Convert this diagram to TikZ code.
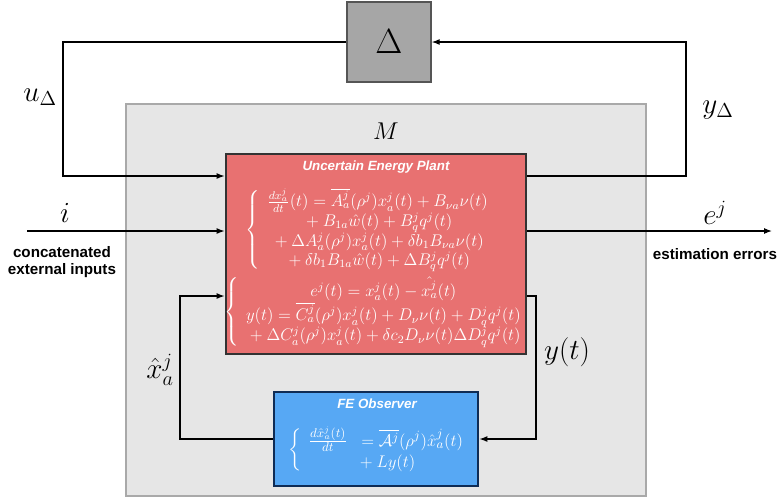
\documentclass[tikz,border=0pt]{standalone}
\usepackage{amsmath,amssymb}
\usepackage{fontspec}
\setsansfont{Liberation Sans}
\usetikzlibrary{arrows.meta,positioning}
\definecolor{plantred}{HTML}{E87171}
\definecolor{obsblue}{HTML}{57A8F4}
\definecolor{obsedge}{HTML}{0F2C55}
\definecolor{mfill}{HTML}{E6E6E6}
\definecolor{medge}{HTML}{A9A9A9}
\definecolor{dfill}{HTML}{A6A6A6}
\definecolor{dedge}{HTML}{555555}

\begin{document}
\begin{tikzpicture}[x=0.025cm, y=-0.025cm,
    arr/.style={-{Latex[length=2mm]}, line width=0.8pt},
    big/.style={font=\huge},
    ttl/.style={text=white, font=\fontsize{9.5}{11}\selectfont\sffamily\bfseries\itshape},
    note/.style={font=\fontsize{10.8}{12.5}\selectfont\sffamily\bfseries, align=center},
    eqn/.style={text=white, inner sep=0pt, font=\fontsize{11.6}{13.2}\selectfont}]
            \useasboundingbox (0,0) rectangle (782,501);
            \node[draw=medge, line width=1.5pt, fill=mfill, minimum width=13cm, minimum height=9.8cm] (M) at (386,300) {};
            \node[font=\LARGE] (mlbl) at (386,131) {$M$};
            \node[draw=dedge, line width=1pt, fill=dfill, minimum width=2.1cm, minimum height=2cm, font=\Huge] (delta) at (389,42) {$\Delta$};
            \node[draw=black!80, line width=2pt, fill=plantred, minimum width=7.5cm, minimum height=5cm] (plant) at (376,254) {};
            \node[draw=obsedge, line width=2pt, fill=obsblue, minimum width=5.1cm, minimum height=2.35cm] (obs) at (376,439) {};

            \node[ttl] (ptitle) at (376,167) {Uncertain Energy Plant};
            \node[eqn] (peq) at (371,230) {$\left\{\begin{array}{c}
                \frac{dx_a^j}{dt}(t) = \overline{A_a^j}(\rho^j)x_a^j(t) + B_{\nu a}\nu(t)\\
                {}+ B_{1a}\hat{w}(t) + B_q^j q^j(t)\\
                {}+ \Delta A_a^j(\rho^j)x_a^j(t) + \delta b_1 B_{\nu a}\nu(t)\\
                {}+ \delta b_1 B_{1a}\hat{w}(t) + \Delta B_q^j q^j(t)
            \end{array}\right.$};
            \node[eqn] (peq2) at (377,312) {$\left\{\begin{array}{c}
                e^j(t) = x_a^j(t) - \hat{x_a^j}(t)\\
                y(t) = \overline{C_a^j}(\rho^j)x_a^j(t) + D_\nu\nu(t) + D_q^j q^j(t)\\
                {}+ \Delta C_a^j(\rho^j)x_a^j(t) + \delta c_2 D_\nu\nu(t)\Delta D_q^j q^j(t)
            \end{array}\right.$};
            \node[ttl] (otitle) at (377,404) {FE Observer};
            \node[eqn, font=\fontsize{12.5}{15}\selectfont] (oeq) at (380,450) {$\left\{\begin{array}{c}
                \frac{d\hat{x}_a^j(t)}{dt}\;\; = \overline{\mathcal{A}^j}(\rho^j)\hat{x}_a^j(t)\\
                {}+ Ly(t)
            \end{array}\right.$};

            \coordinate (uL) at (63,176);
            \coordinate (yR) at (686,176);
            \coordinate (iin) at (27,231);
            \coordinate (eout) at (772,231);
            \coordinate (xL) at (180,296);
            \coordinate (yt) at (536,296);

            \draw[arr] (delta.west) -| (uL) -- (uL -| plant.west);
            \draw[arr] (yR -| plant.east) -- (yR) |- (delta.east);
            \draw[arr] (iin) -- (iin -| plant.west);
            \draw[arr] (eout -| plant.east) -- (eout);
            \draw[arr] (obs.west) -| (xL) -- (xL -| plant.west);
            \draw[arr] (yt -| plant.east) -- (yt) |- (obs.east);

            \node[big] (ulbl) at (40,97) {$u_\Delta$};
            \node[big] (ylbl) at (718,110) {$y_\Delta$};
            \node[big] (ilbl) at (65,213) {$i$};
            \node[big] (elbl) at (715,213) {$e^j$};
            \node[big] (xlbl) at (160,370) {$\hat{x}_a^j$};
            \node[big] (ytlbl) at (567,352) {$y(t)$};
            \node[note] (inlbl) at (62,262) {concatenated\\external inputs};
            \node[note] (outlbl) at (715,254) {estimation errors};
        \end{tikzpicture}
\end{document}
